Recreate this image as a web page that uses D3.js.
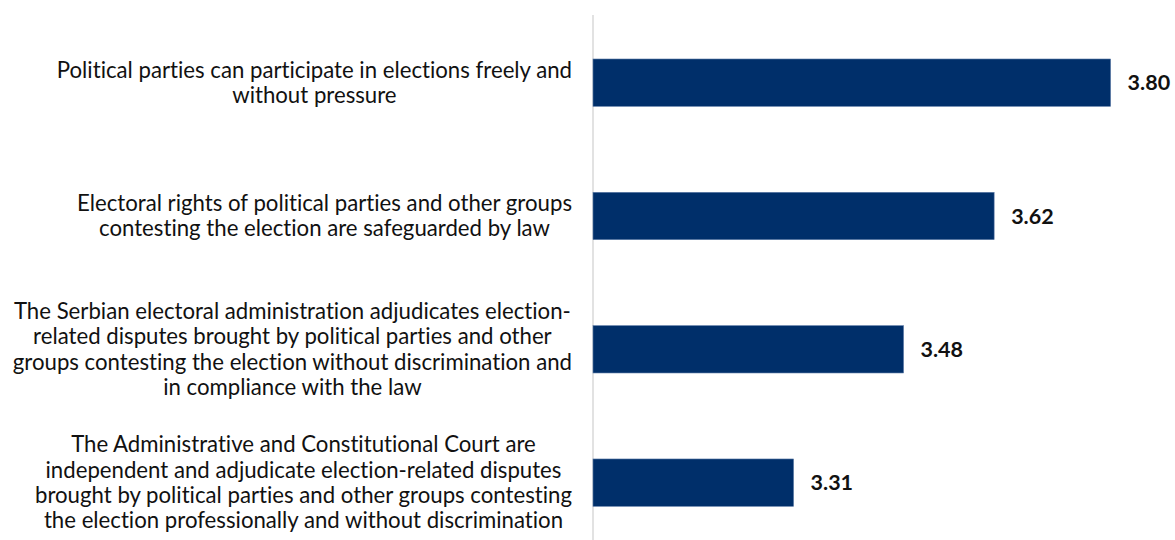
<!DOCTYPE html>
<html>
<head>
<meta charset="utf-8">
<script src="https://cdn.jsdelivr.net/npm/d3@7"></script>
<style>
  html, body { margin: 0; padding: 0; background: #fff; }
  svg { display: block; }
  text { font-variant-ligatures: none; }
</style>
</head>
<body>
<svg id="chart" width="1175" height="540"></svg>
<script>
// Survey statements (top to bottom) and their mean scores
const statements = [
  ["Political parties can participate in elections freely and", "without pressure"],
  ["Electoral rights of political parties and other groups", "contesting the election are safeguarded by law"],
  ["The Serbian electoral administration adjudicates election-", "related disputes brought by political parties and other",
   "groups contesting the election without discrimination and", "in compliance with the law"],
  ["The Administrative and Constitutional Court are", "independent and adjudicate election-related disputes",
   "brought by political parties and other groups contesting", "the election professionally and without discrimination"]
];
const scores = [3.80, 3.62, 3.48, 3.31];
const scoreLabels = ["3.80", "3.62", "3.48", "3.31"];

const svg = d3.select("#chart");
const fontFamily = "'Lato', 'Open Sans', sans-serif";

const axisX = 593;
const x = d3.scaleLinear().domain([3.0, 4.0]).range([axisX, axisX + 647]);
const y = d3.scaleBand()
  .domain(d3.range(statements.length))
  .range([16, 549.3])
  .paddingInner(0.645)
  .paddingOuter(0.3225);

// vertical category axis line
svg.append("line")
  .attr("x1", axisX).attr("x2", axisX)
  .attr("y1", 15).attr("y2", 540)
  .attr("stroke", "#d9d9d9").attr("stroke-width", 1.5);

// bars
svg.append("g").selectAll("rect")
  .data(scores)
  .join("rect")
  .attr("x", x(3.0))
  .attr("y", (d, i) => y(i))
  .attr("width", d => x(d) - x(3.0))
  .attr("height", y.bandwidth())
  .attr("fill", "#002f6a")
  .attr("stroke", "#5b7aa6")
  .attr("stroke-width", 0.6);

// value labels
svg.append("g").selectAll("text")
  .data(scores)
  .join("text")
  .attr("x", d => x(d) + 17)
  .attr("y", (d, i) => y(i) + y.bandwidth() / 2)
  .attr("dy", "0.36em")
  .attr("font-family", fontFamily)
  .attr("font-weight", "bold")
  .attr("font-size", 21.5)
  .attr("fill", "#111")
  .text((d, i) => scoreLabels[i]);

// category labels: centred lines, block right-aligned to the axis
const labelRight = 572;
const lineH = 25.3;
const labelSize = 22.2;
const labelG = svg.append("g");
statements.forEach((lines, i) => {
  const cy = y(i) + y.bandwidth() / 2;
  const g = labelG.append("g");
  const texts = lines.map((t, k) => g.append("text")
    .attr("y", cy + (k - (lines.length - 1) / 2) * lineH)
    .attr("dy", "0.35em")
    .attr("text-anchor", "middle")
    .attr("font-family", fontFamily)
    .attr("font-size", labelSize)
    .attr("fill", "#111")
    .text(t));
  const maxW = d3.max(texts, t => t.node().getComputedTextLength());
  texts.forEach(t => t.attr("x", labelRight - maxW / 2));
});
</script>
</body>
</html>
